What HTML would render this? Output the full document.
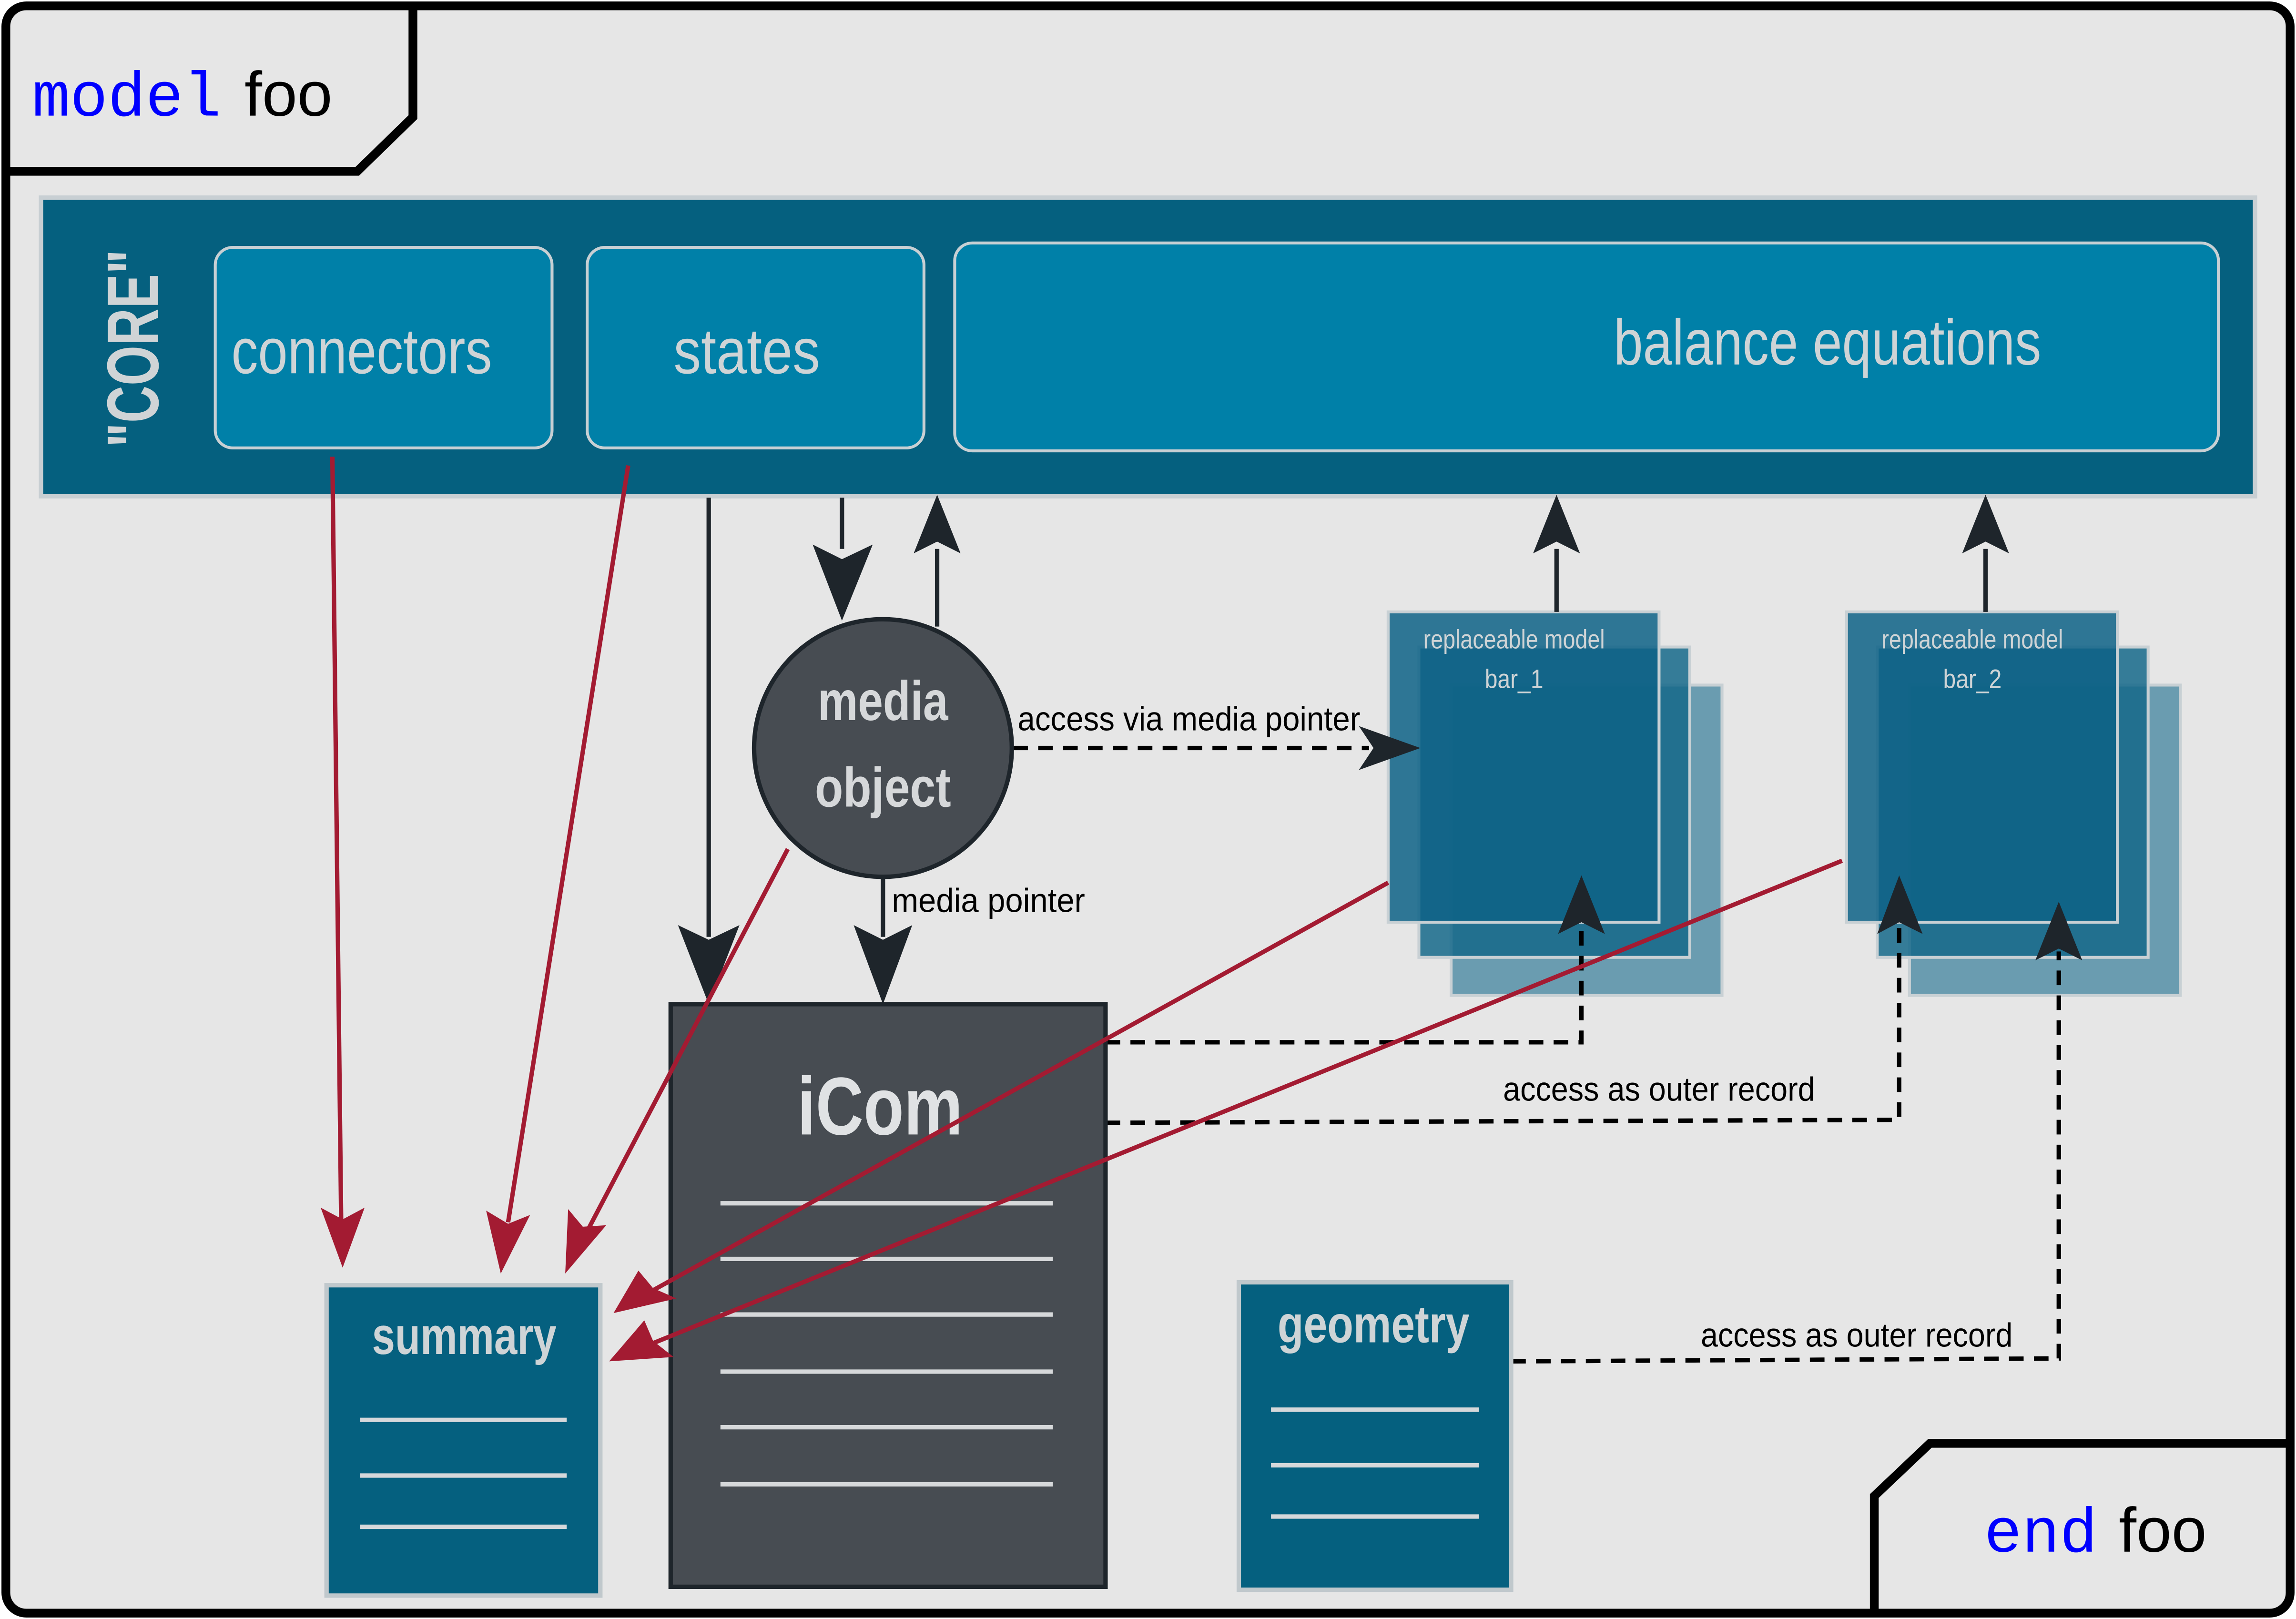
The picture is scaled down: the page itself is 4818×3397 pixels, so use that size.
<!DOCTYPE html>
<html><head><meta charset="utf-8"><style>
html,body{margin:0;padding:0;background:#fff}
svg{display:block}
text{font-family:"Liberation Sans Narrow","Liberation Sans",sans-serif}
</style></head><body>
<svg width="4818" height="3397" viewBox="0 0 1568 1106" preserveAspectRatio="none" xmlns="http://www.w3.org/2000/svg">
<!-- outer frame -->
<rect x="4" y="4" width="1560" height="1098" rx="14" fill="#e6e6e6" stroke="#000" stroke-width="6"/>
<path d="M4 117 L244 117 L282 80 L282 4" fill="none" stroke="#000" stroke-width="6"/>
<text x="22" y="79" font-size="43" fill="#0000ff" style="font-family:'Liberation Mono',monospace">model</text>
<text x="167" y="79" font-size="43" fill="#000" textLength="60" lengthAdjust="spacingAndGlyphs" style="font-family:'Liberation Sans',sans-serif">foo</text>
<path d="M1280 1102 L1280 1022 L1318 986 L1564 986" fill="none" stroke="#000" stroke-width="6"/>
<text x="1355" y="1060" font-size="43" fill="#0000ff" style="font-family:'Liberation Mono',monospace">end</text>
<text x="1447" y="1060" font-size="43" fill="#000" textLength="60" lengthAdjust="spacingAndGlyphs" style="font-family:'Liberation Sans',sans-serif">foo</text>

<!-- core bar -->
<rect x="28" y="135" width="1512" height="204" fill="#05607f" stroke="#c8cfd3" stroke-width="3"/>
<text transform="translate(108,238) rotate(-90)" text-anchor="middle" font-size="50" font-weight="bold" fill="#d0d4d6" textLength="135" lengthAdjust="spacingAndGlyphs">"CORE"</text>
<rect x="147" y="169" width="230" height="137" rx="12" fill="#0080a8" stroke="#c8d0d4" stroke-width="2"/>
<text x="247" y="255" text-anchor="middle" font-size="44" fill="#cfd4d6" textLength="178" lengthAdjust="spacingAndGlyphs">connectors</text>
<rect x="401" y="169" width="230" height="137" rx="12" fill="#0080a8" stroke="#c8d0d4" stroke-width="2"/>
<text x="510" y="255" text-anchor="middle" font-size="44" fill="#cfd4d6" textLength="100" lengthAdjust="spacingAndGlyphs">states</text>
<rect x="652" y="166" width="863" height="142" rx="12" fill="#0080a8" stroke="#c8d0d4" stroke-width="2"/>
<text x="1248" y="249" text-anchor="middle" font-size="44" fill="#cfd4d6" textLength="292" lengthAdjust="spacingAndGlyphs">balance equations</text>

<!-- replaceable models -->
<g>
<rect x="991" y="468" width="185" height="212" fill="#6a9cb0" stroke="#c8d0d4" stroke-width="2"/>
<rect x="969" y="442" width="185" height="212" fill="#15688a" fill-opacity="0.85" stroke="#c8d0d4" stroke-width="2"/>
<rect x="948" y="418" width="185" height="212" fill="#0d6286" fill-opacity="0.85" stroke="#c8d0d4" stroke-width="2"/>
<text x="1034" y="443" text-anchor="middle" font-size="18" fill="#cfd4d6" textLength="124" lengthAdjust="spacingAndGlyphs">replaceable model</text>
<text x="1034" y="470" text-anchor="middle" font-size="18" fill="#cfd4d6" textLength="40" lengthAdjust="spacingAndGlyphs">bar_1</text>
</g>
<g>
<rect x="1304" y="468" width="185" height="212" fill="#6a9cb0" stroke="#c8d0d4" stroke-width="2"/>
<rect x="1282" y="442" width="185" height="212" fill="#15688a" fill-opacity="0.85" stroke="#c8d0d4" stroke-width="2"/>
<rect x="1261" y="418" width="185" height="212" fill="#0d6286" fill-opacity="0.85" stroke="#c8d0d4" stroke-width="2"/>
<text x="1347" y="443" text-anchor="middle" font-size="18" fill="#cfd4d6" textLength="124" lengthAdjust="spacingAndGlyphs">replaceable model</text>
<text x="1347" y="470" text-anchor="middle" font-size="18" fill="#cfd4d6" textLength="40" lengthAdjust="spacingAndGlyphs">bar_2</text>
</g>

<!-- black arrows -->
<g stroke="#1e252b" stroke-width="3" fill="none">
<line x1="484" y1="340" x2="484" y2="640"/>
<line x1="575" y1="340" x2="575" y2="375"/>
<line x1="640" y1="428" x2="640" y2="375"/>
<line x1="603" y1="600" x2="603" y2="640"/>
<line x1="1063" y1="418" x2="1063" y2="375"/>
<line x1="1356" y1="418" x2="1356" y2="375"/>
</g>
<g fill="#1e252b">
<path d="M463 632 L484 686 L505 632 L484 642Z"/>
<path d="M555 372 L575 424 L596 372 L575 382Z"/>
<path d="M624 378 L640 338 L656 378 L640 370Z"/>
<path d="M583 632 L603 686 L623 632 L603 642Z"/>
<path d="M1047 378 L1063 338 L1079 378 L1063 370Z"/>
<path d="M1340 378 L1356 338 L1372 378 L1356 370Z"/>
<path d="M928 496 L970 511 L928 526 L938 511Z"/>
<path d="M1064 638 L1080 598 L1096 638 L1080 630Z"/>
<path d="M1282 638 L1297 598 L1313 638 L1297 630Z"/>
<path d="M1390 656 L1406 616 L1422 656 L1406 648Z"/>
</g>

<!-- dashed -->
<g stroke="#000" stroke-width="3" fill="none" stroke-dasharray="10,7">
<line x1="692" y1="511" x2="935" y2="511"/>
<path d="M755 712 L1080 712 L1080 632"/>
<path d="M755 767 L1297 765 L1297 632"/>
<path d="M1032 930 L1406 928 L1406 650"/>
</g>
<text x="812" y="499" text-anchor="middle" font-size="23" fill="#000" textLength="234" lengthAdjust="spacingAndGlyphs">access via media pointer</text>
<text x="675" y="623" text-anchor="middle" font-size="23" fill="#000" textLength="132" lengthAdjust="spacingAndGlyphs">media pointer</text>
<text x="1133" y="752" text-anchor="middle" font-size="23" fill="#000" textLength="213" lengthAdjust="spacingAndGlyphs">access as outer record</text>
<text x="1268" y="920" text-anchor="middle" font-size="23" fill="#000" textLength="213" lengthAdjust="spacingAndGlyphs">access as outer record</text>

<!-- media object -->
<circle cx="603" cy="511" r="88" fill="#474c52" stroke="#1e252b" stroke-width="3"/>
<text x="603" y="492" text-anchor="middle" font-size="38" font-weight="bold" fill="#d6d8da" textLength="89" lengthAdjust="spacingAndGlyphs">media</text>
<text x="603" y="551" text-anchor="middle" font-size="38" font-weight="bold" fill="#d6d8da" textLength="93" lengthAdjust="spacingAndGlyphs">object</text>

<!-- iCom -->
<rect x="458" y="686" width="297" height="398" fill="#474c52" stroke="#1e252b" stroke-width="3"/>
<text x="601" y="775" text-anchor="middle" font-size="56" font-weight="bold" fill="#e0e2e4" textLength="113" lengthAdjust="spacingAndGlyphs">iCom</text>
<g stroke="#d6d8da" stroke-width="3">
<line x1="492" y1="822" x2="719" y2="822"/>
<line x1="492" y1="860" x2="719" y2="860"/>
<line x1="492" y1="898" x2="719" y2="898"/>
<line x1="492" y1="937" x2="719" y2="937"/>
<line x1="492" y1="975" x2="719" y2="975"/>
<line x1="492" y1="1014" x2="719" y2="1014"/>
</g>

<!-- summary -->
<rect x="223" y="878" width="187" height="212" fill="#05607f" stroke="#c0c8cc" stroke-width="3"/>
<text x="317" y="925" text-anchor="middle" font-size="36" font-weight="bold" fill="#cfd4d6" textLength="126" lengthAdjust="spacingAndGlyphs">summary</text>
<g stroke="#d6d8da" stroke-width="3">
<line x1="246" y1="970" x2="387" y2="970"/>
<line x1="246" y1="1008" x2="387" y2="1008"/>
<line x1="246" y1="1043" x2="387" y2="1043"/>
</g>

<!-- geometry -->
<rect x="846" y="876" width="186" height="210" fill="#05607f" stroke="#c0c8cc" stroke-width="3"/>
<text x="938" y="917" text-anchor="middle" font-size="36" font-weight="bold" fill="#cfd4d6" textLength="131" lengthAdjust="spacingAndGlyphs">geometry</text>
<g stroke="#d6d8da" stroke-width="3">
<line x1="868" y1="963" x2="1010" y2="963"/>
<line x1="868" y1="1001" x2="1010" y2="1001"/>
<line x1="868" y1="1036" x2="1010" y2="1036"/>
</g>

<!-- red arrows -->
<g stroke="#a31b32" stroke-width="3" fill="none">
<line x1="227" y1="312" x2="233" y2="835"/>
<line x1="429" y1="318" x2="347" y2="835"/>
<line x1="538" y1="580" x2="400" y2="843"/>
<line x1="948" y1="603" x2="445" y2="882"/>
<line x1="1258" y1="588" x2="445" y2="918"/>
</g>
<g fill="#a31b32">
<path d="M219 825 L234 866 L249 825 L234 833Z"/>
<path d="M332 827 L342 870 L362 830 L347 836Z"/>
<path d="M388 826 L386 870 L414 837 L398 838Z"/>
<path d="M436 868 L419 897 L462 887 L446 880Z"/>
<path d="M440 902 L416 930 L460 927 L446 916Z"/>
</g>
</svg>
</body></html>
